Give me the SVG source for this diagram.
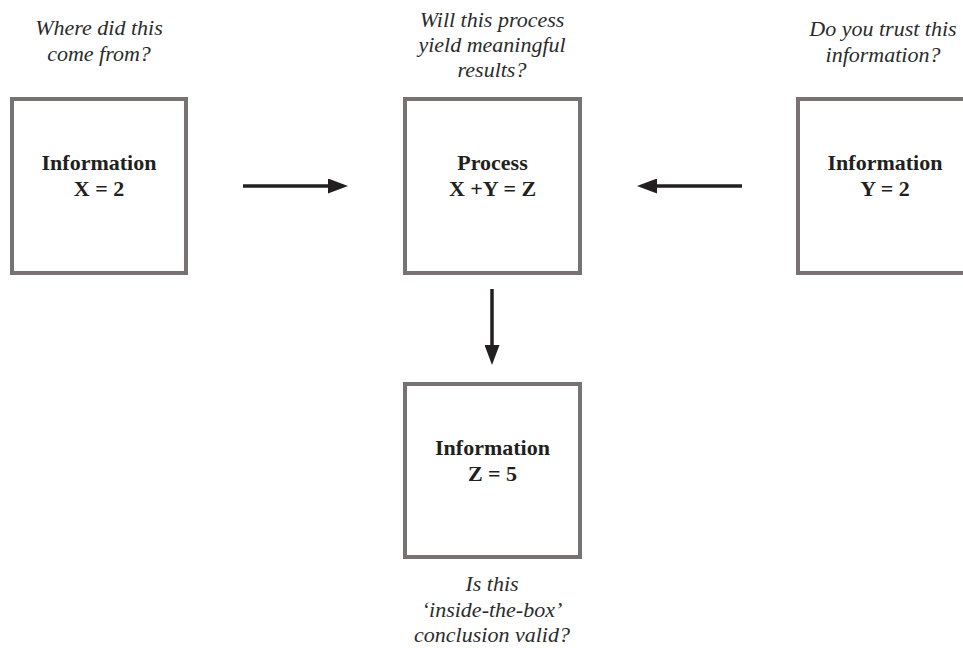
<svg xmlns="http://www.w3.org/2000/svg" width="963" height="648" viewBox="0 0 963 648">
<style>
.box{fill:#fff;stroke:#797272;stroke-width:4}
.lbl{font-family:'Liberation Serif','DejaVu Serif',serif;font-size:22px;font-weight:bold;fill:#231f20;text-anchor:middle}
.q{font-family:'Liberation Serif','DejaVu Serif',serif;font-size:22px;font-style:italic;fill:#2b2b2b;text-anchor:middle}
.conn{stroke:#231f20;stroke-width:3.5;fill:none;marker-end:url(#ah)}
</style>
<defs>
<marker id="ah" viewBox="0 0 20 15" refX="2" refY="7.5" markerWidth="20" markerHeight="15" markerUnits="userSpaceOnUse" orient="auto">
<path d="M0,0 L20,7.5 L0,15 z" fill="#231f20"/>
</marker>
</defs>
<rect width="963" height="648" fill="#fff"/>
<g id="q-left" font-family="Liberation Serif, serif">
<text class="q" x="99" y="35">Where did this</text>
<text class="q" x="99" y="61">come from?</text>
</g>
<g id="q-center" font-family="Liberation Serif, serif">
<text class="q" x="492" y="27">Will this process</text>
<text class="q" x="492" y="52">yield meaningful</text>
<text class="q" x="492" y="77">results?</text>
</g>
<g id="q-right" font-family="Liberation Serif, serif">
<text class="q" x="883" y="36">Do you trust this</text>
<text class="q" x="883" y="61.5">information?</text>
</g>
<g id="q-bottom" font-family="Liberation Serif, serif">
<text class="q" x="492" y="591">Is this</text>
<text class="q" x="492" y="616.5">‘inside-the-box’</text>
<text class="q" x="492" y="642">conclusion valid?</text>
</g>
<g id="info-x" font-family="Liberation Serif, serif">
<rect class="box" x="12" y="99" width="174" height="174"/>
<text class="lbl" x="99" y="170">Information</text>
<text class="lbl" x="99" y="196">X = 2</text>
</g>
<g id="process" font-family="Liberation Serif, serif">
<rect class="box" x="405" y="99" width="175" height="174"/>
<text class="lbl" x="492.5" y="170">Process</text>
<text class="lbl" x="492.5" y="196">X +Y = Z</text>
</g>
<g id="info-y" font-family="Liberation Serif, serif">
<rect class="box" x="798" y="99" width="174" height="174"/>
<text class="lbl" x="885" y="170">Information</text>
<text class="lbl" x="885" y="196">Y = 2</text>
</g>
<g id="info-z" font-family="Liberation Serif, serif">
<rect class="box" x="405" y="384" width="175" height="173"/>
<text class="lbl" x="492.5" y="455">Information</text>
<text class="lbl" x="492.5" y="481">Z = 5</text>
</g>
<g id="connectors">
<line class="conn" x1="243" y1="186" x2="330" y2="186"/>
<line class="conn" x1="742" y1="186" x2="655" y2="186"/>
<line class="conn" x1="492" y1="289" x2="492" y2="347"/>
</g>
</svg>
